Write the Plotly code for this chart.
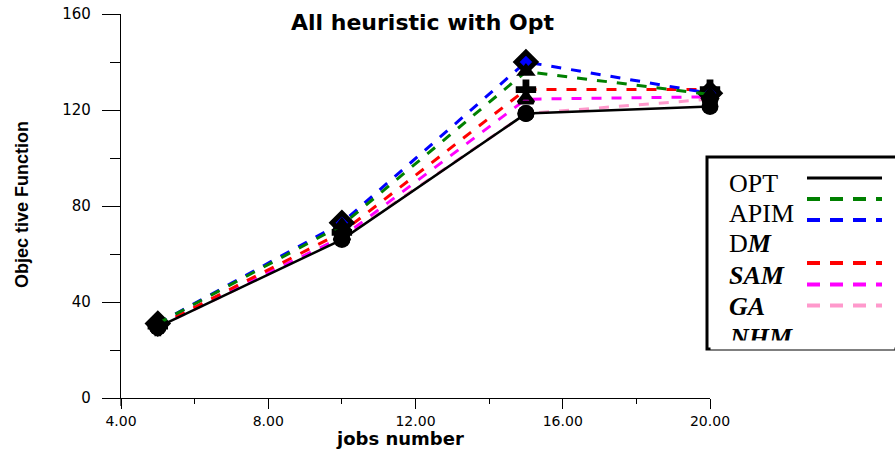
import plotly.graph_objects as go

W, H = 895, 453

jobs = [5, 10, 15, 20]
series_names = ["OPT", "APIM", "DM", "SAM", "GA", "NHM"]
opt_vals = [29.5, 66, 118.5, 121.5]
apim_vals = [31, 72, 136, 126.5]
dm_vals = [31, 73, 140, 127]
sam_vals = [30, 69, 128.5, 128.5]
ga_vals = [30, 67, 124.5, 125.5]
nhm_vals = [29.5, 66.5, 118.5, 124.5]

y_ticks = [0, 40, 80, 120, 160]
x_ticks = [4, 8, 12, 16, 20]

# plot area in pixels
X0, X1 = 121, 710
YB, YT = 398, 14


def px(x):
    return x / W


def py(y):
    return 1 - y / H


fig = go.Figure()

styles = {
    "NHM": dict(color="#ff99cc", dash="10px,10px", sym="circle", mcolor="black", mline=0, ms=17),
    "GA": dict(color="#ff00ff", dash="10px,10px", sym="triangle-up", mcolor="#ff00ff", mline=4, ms=13),
    "SAM": dict(color="#ff0000", dash="10px,10px", sym="cross", mcolor="black", mline=0, ms=17),
    "DM": dict(color="#0000ff", dash="10px,10px", sym="diamond", mcolor="#0000ff", mline=5, ms=15),
    "APIM": dict(color="#008000", dash="10px,10px", sym="triangle-up", mcolor="black", mline=0, ms=17),
    "OPT": dict(color="black", dash="solid", sym="circle", mcolor="black", mline=0, ms=17),
}
values = {"OPT": opt_vals, "APIM": apim_vals, "DM": dm_vals, "SAM": sam_vals, "GA": ga_vals, "NHM": nhm_vals}

for name in ["NHM", "GA", "SAM", "DM", "APIM", "OPT"]:
    s = styles[name]
    fig.add_trace(go.Scatter(
        x=jobs, y=values[name], mode="lines+markers", name=name,
        line=dict(color=s["color"], width=2.5 if name == "OPT" else 3, dash=s["dash"]),
        marker=dict(symbol=s["sym"], size=s["ms"], color=s["mcolor"],
                    line=dict(color="black", width=s["mline"])),
        showlegend=False, cliponaxis=False,
    ))

fig.update_layout(
    width=W, height=H,
    margin=dict(l=0, r=0, t=0, b=0),
    paper_bgcolor="white", plot_bgcolor="white",
    showlegend=False,
    xaxis=dict(
        domain=[px(X0), px(X1)], range=[4, 20], tickvals=x_ticks, tickformat=".2f",
        ticks="outside", ticklen=10, tickwidth=1, tickcolor="black",
        minor=dict(dtick=2, tick0=4, ticks="outside", ticklen=5, tickcolor="black"),
        showline=True, linecolor="black", linewidth=1.2, showgrid=False, zeroline=False,
        tickfont=dict(family="DejaVu Sans", size=14, color="black"), automargin=False,
    ),
    yaxis=dict(
        domain=[py(YB), py(YT)], range=[0, 160], tickvals=y_ticks,
        ticks="outside", ticklen=18, tickwidth=1, tickcolor="black",
        minor=dict(dtick=20, tick0=0, ticks="outside", ticklen=10, tickcolor="black"),
        showline=True, linecolor="black", linewidth=1.2, showgrid=False, zeroline=False,
        tickfont=dict(family="DejaVu Sans", size=15, color="black"), automargin=False,
        ticklabelstandoff=8,
    ),
)

shapes = []
# y axis line extension below zero
shapes.append(dict(type="line", xref="paper", yref="paper", x0=px(X0), x1=px(X0),
                   y0=py(YB), y1=py(YB + 8), line=dict(color="black", width=1.2)))

# legend box
LB_L, LB_T, LB_B = 707, 157, 349
shapes.append(dict(type="rect", xref="paper", yref="paper", x0=px(LB_L), x1=px(W + 10),
                   y0=py(LB_B), y1=py(LB_T), line=dict(color="black", width=3),
                   fillcolor="white", layer="below"))

legend_lines = [("OPT", 178), ("APIM", 199), ("DM", 220), ("SAM", 263), ("GA", 284.5), ("NHM", 305.5)]
for name, yy in legend_lines:
    s = styles[name]
    shapes.append(dict(type="line", xref="paper", yref="paper", x0=px(807), x1=px(882),
                       y0=py(yy), y1=py(yy),
                       line=dict(color=s["color"], width=3 if name == "OPT" else 4,
                                 dash="solid" if name == "OPT" else "13px,10px")))
fig.update_layout(shapes=shapes)

annos = []
annos.append(dict(text="<b>All heuristic with Opt</b>", x=px(422), y=py(22), xref="paper", yref="paper",
                  showarrow=False, xanchor="center", yanchor="middle",
                  font=dict(family="DejaVu Sans", size=22, color="black")))
annos.append(dict(text="<b>jobs number</b>", x=px(400), y=py(438), xref="paper", yref="paper",
                  showarrow=False, xanchor="center", yanchor="middle",
                  font=dict(family="DejaVu Sans", size=18, color="black")))
annos.append(dict(text="<b>Objec tive Function</b>", x=px(22), y=py(205), xref="paper", yref="paper",
                  showarrow=False, xanchor="center", yanchor="middle", textangle=-90,
                  font=dict(family="Liberation Sans", size=18, color="black")))

legend_texts = [("OPT", 183), ("APIM", 213.5), ("D<b><i>M</i></b>", 243.5),
                ("<b><i>SAM</i></b>", 275), ("<b><i>GA</i></b>", 306.5), ("<b><i>NHM</i></b>", 337.5)]
for txt, yy in legend_texts:
    annos.append(dict(text=txt, x=px(727), y=py(yy), xref="paper", yref="paper",
                      showarrow=False, xanchor="left", yanchor="middle",
                      font=dict(family="Liberation Serif", size=26, color="black")))

# mask clipping the last legend entry at the bottom of the box
annos.append(dict(text=" ", x=px(710), y=py(339.5), xref="paper", yref="paper",
                  showarrow=False, xanchor="left", yanchor="top", width=183, height=8,
                  bgcolor="white", borderpad=0, font=dict(size=4)))
fig.update_layout(annotations=annos)

fig.write_html("out.html")
